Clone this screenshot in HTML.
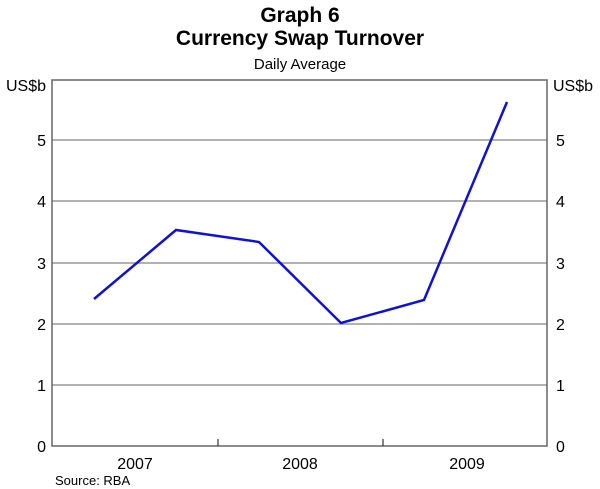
<!DOCTYPE html>
<html><head><style>body{margin:0;background:#fff}svg{display:block}</style></head><body>
<svg width="600" height="489" xmlns="http://www.w3.org/2000/svg" font-family="Liberation Sans, Arial, sans-serif">
<text x="300" y="22" text-anchor="middle" font-size="21" font-weight="bold">Graph 6</text>
<text x="300" y="45" text-anchor="middle" font-size="21" font-weight="bold">Currency Swap Turnover</text>
<text x="300" y="69" text-anchor="middle" font-size="15">Daily Average</text>
<g stroke="#999" stroke-width="1.5">
<line x1="52" y1="140" x2="547" y2="140"/><line x1="52" y1="201" x2="547" y2="201"/>
<line x1="52" y1="263" x2="547" y2="263"/><line x1="52" y1="324" x2="547" y2="324"/>
<line x1="52" y1="385" x2="547" y2="385"/>
</g>
<rect x="52" y="80" width="495" height="366" fill="none" stroke="#666" stroke-width="1.5"/>
<g stroke="#333" stroke-width="1.2"><line x1="218" y1="439" x2="218" y2="446"/><line x1="383" y1="439" x2="383" y2="446"/></g>
<polyline points="94,299 176,230 259,242 341,323 424,300 507,102" fill="none" stroke="#1010d8" stroke-width="2.5"/>
<g font-size="16">
<text x="46" y="91" text-anchor="end">US$b</text><text x="553" y="91">US$b</text>
<g text-anchor="end"><text x="46" y="146">5</text><text x="46" y="207">4</text><text x="46" y="269">3</text><text x="46" y="330">2</text><text x="46" y="391">1</text><text x="46" y="452">0</text></g>
<text x="556" y="146">5</text><text x="556" y="207">4</text><text x="556" y="269">3</text><text x="556" y="330">2</text><text x="556" y="391">1</text><text x="556" y="452">0</text>
<text x="135" y="469" text-anchor="middle">2007</text><text x="300" y="469" text-anchor="middle">2008</text><text x="467" y="469" text-anchor="middle">2009</text>
</g>
<text x="55" y="485" font-size="13">Source: RBA</text>
</svg>
</body></html>
